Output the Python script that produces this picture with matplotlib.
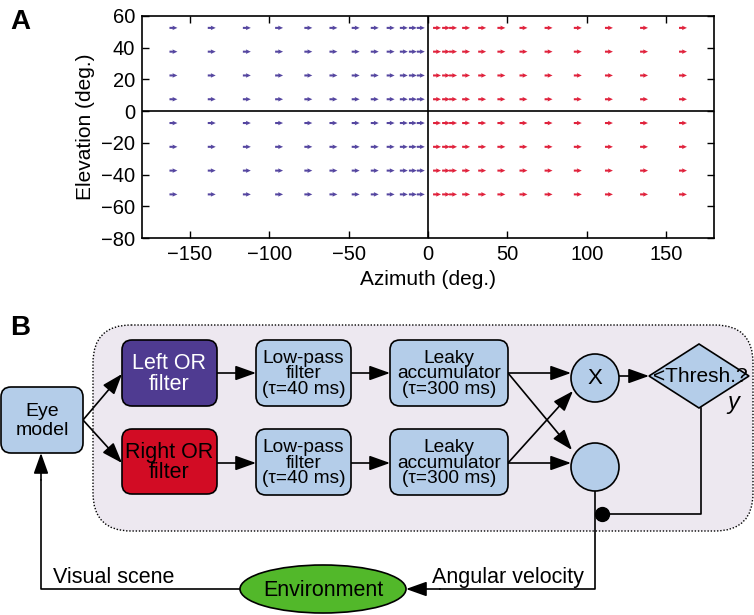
import numpy as np
import matplotlib
matplotlib.use("Agg")
import matplotlib.pyplot as plt
from matplotlib.patches import FancyBboxPatch, Circle, Ellipse, Polygon

plt.rcParams['font.family'] = ['Liberation Sans', 'DejaVu Sans']

# panel A data: arrow tail positions (deg.)
az_left = [-162.7, -138.6, -116.5, -96.2, -77.8, -62.0, -48.0, -36.0, -26.0, -17.7, -12.0, -7.0]
az_right = [3.2, 8.9, 13.3, 21.5, 31.6, 43.7, 57.6, 73.4, 91.8, 111.4, 133.5, 158.0]
elev = [52.5, 37.5, 22.5, 7.5, -7.5, -22.5, -37.5, -52.5]
arrow_len = 5.0
xticks = [-150, -100, -50, 0, 50, 100, 150]
yticks = [-80, -60, -40, -20, 0, 20, 40, 60]

blue = "#4f3b91"
red = "#d20c24"
lightblue = "#b4cde9"
lavender = "#ede8f0"
green = "#52b82a"

fig = plt.figure(figsize=(7.54, 6.15), dpi=100)

# ---- panel A ----
ax = fig.add_axes([0.1883, 0.613, 0.7586, 0.361])
for az, col in [(az_left, "#5546a0"), (az_right, "#e0223c")]:
    X, Y = np.meshgrid(az, elev)
    U = np.full(X.shape, arrow_len)
    V = np.zeros(X.shape)
    ax.quiver(X, Y, U, V, color=col, angles='xy', scale_units='xy', scale=1,
              pivot='tail', width=0.0036, headwidth=2.2, headlength=2.4,
              headaxislength=2.2)
ax.axhline(0, color='k', lw=1.2)
ax.axvline(0, color='k', lw=1.2)
ax.set_xlim(-180, 180)
ax.set_ylim(-80, 60)
ax.set_xticks(xticks)
ax.set_yticks(yticks)
ax.tick_params(direction='in', top=True, right=True, length=5, width=1,
               labelsize=14.5, pad=5)
for s in ax.spines.values():
    s.set_linewidth(1.2)
ax.set_xlabel("Azimuth (deg.)", fontsize=15, labelpad=4)
ax.set_ylabel("Elevation (deg.)", fontsize=15, labelpad=4)

# ---- panel B (pixel coordinates) ----
bx = fig.add_axes([0, 0, 1, 1])
bx.set_xlim(0, 754)
bx.set_ylim(615, 0)
bx.axis('off')
bx.patch.set_alpha(0)

bx.text(10, 22, "A", fontsize=20, fontweight='bold', va='center', ha='left')
bx.text(10, 328, "B", fontsize=20, fontweight='bold', va='center', ha='left')

bx.add_patch(FancyBboxPatch((93, 325), 660, 206,
                            boxstyle="round,pad=0,rounding_size=38",
                            fc=lavender, ec='k', lw=1.0, ls=(0, (1, 1.3))))


def box(x, y, w, h, fc, text, tc='k', fs=13, ls=1.0):
    bx.add_patch(FancyBboxPatch((x, y), w, h, boxstyle="round,pad=0,rounding_size=10",
                                fc=fc, ec='k', lw=1.2, zorder=3))
    bx.text(x + w / 2, y + h / 2 + 1, text, ha='center', va='center', fontsize=fs,
            color=tc, linespacing=ls, zorder=4)


box(1, 387, 82, 66, lightblue, "Eye\nmodel", fs=14, ls=1.1)
box(122, 340, 95, 66, blue, "Left OR\nfilter", tc='white', fs=15.5, ls=0.95)
box(122, 429, 95, 65, red, "Right OR\nfilter", fs=15.5, ls=0.95)
for y in [340, 429]:
    box(256, y, 95, 66, lightblue, "Low-pass\nfilter\n(\u03c4=40 ms)", fs=13.8, ls=0.88)
    box(390, y, 118, 66, lightblue, "Leaky\naccumulator\n(\u03c4=300 ms)", fs=13.8, ls=0.88)

bx.add_patch(Circle((595, 378), 24, fc=lightblue, ec='k', lw=1.2, zorder=3))
bx.text(595, 379, "X", ha='center', va='center', fontsize=16, zorder=4)
bx.add_patch(Circle((595, 467), 24, fc=lightblue, ec='k', lw=1.2, zorder=3))
bx.add_patch(Polygon([(649, 376), (699, 344), (749, 376), (699, 408)], closed=True,
                     fc=lightblue, ec='k', lw=1.2, zorder=3))
bx.text(700, 377, "<Thresh.?", ha='center', va='center', fontsize=15, zorder=4)
bx.text(733, 403, "y", ha='center', va='center', fontsize=17, style='italic', zorder=4)

bx.add_patch(Ellipse((323, 589), 166, 48, fc=green, ec='k', lw=1.2, zorder=3))
bx.text(323, 591, "Environment", ha='center', va='center', fontsize=15.5, zorder=4)

arrow = dict(arrowstyle='-|>,head_length=0.7,head_width=0.25', color='k', lw=1.2,
             mutation_scale=18, shrinkA=0, shrinkB=0)


def arr(p0, p1):
    bx.annotate('', xy=p1, xytext=p0, arrowprops=arrow, zorder=2)


arr((83, 420), (122, 374))
arr((83, 420), (122, 463))
for y in [373, 463]:
    arr((217, y), (256, y))
    arr((351, y), (390, y))
    arr((508, y), (571, y))
arr((508, 373), (572, 450))
arr((508, 463), (573, 391))
arr((619, 376), (649, 376))

# feedback lines
bx.plot([595, 595, 440], [491, 589, 589], color='k', lw=1.2, zorder=2)
arr((440, 589), (406, 589))
bx.plot([701, 701, 602], [408, 514, 514], color='k', lw=1.2, zorder=2)
bx.plot([602], [514], 'o', color='k', ms=10, zorder=4)
bx.plot([240, 41, 41], [589, 589, 480], color='k', lw=1.2, zorder=2)
arr((41, 480), (41, 453))

bx.text(53, 583, "Visual scene", ha='left', va='baseline', fontsize=15.5)
bx.text(584, 583, "Angular velocity", ha='right', va='baseline', fontsize=15.5)

fig.savefig("out.png", dpi=100)
